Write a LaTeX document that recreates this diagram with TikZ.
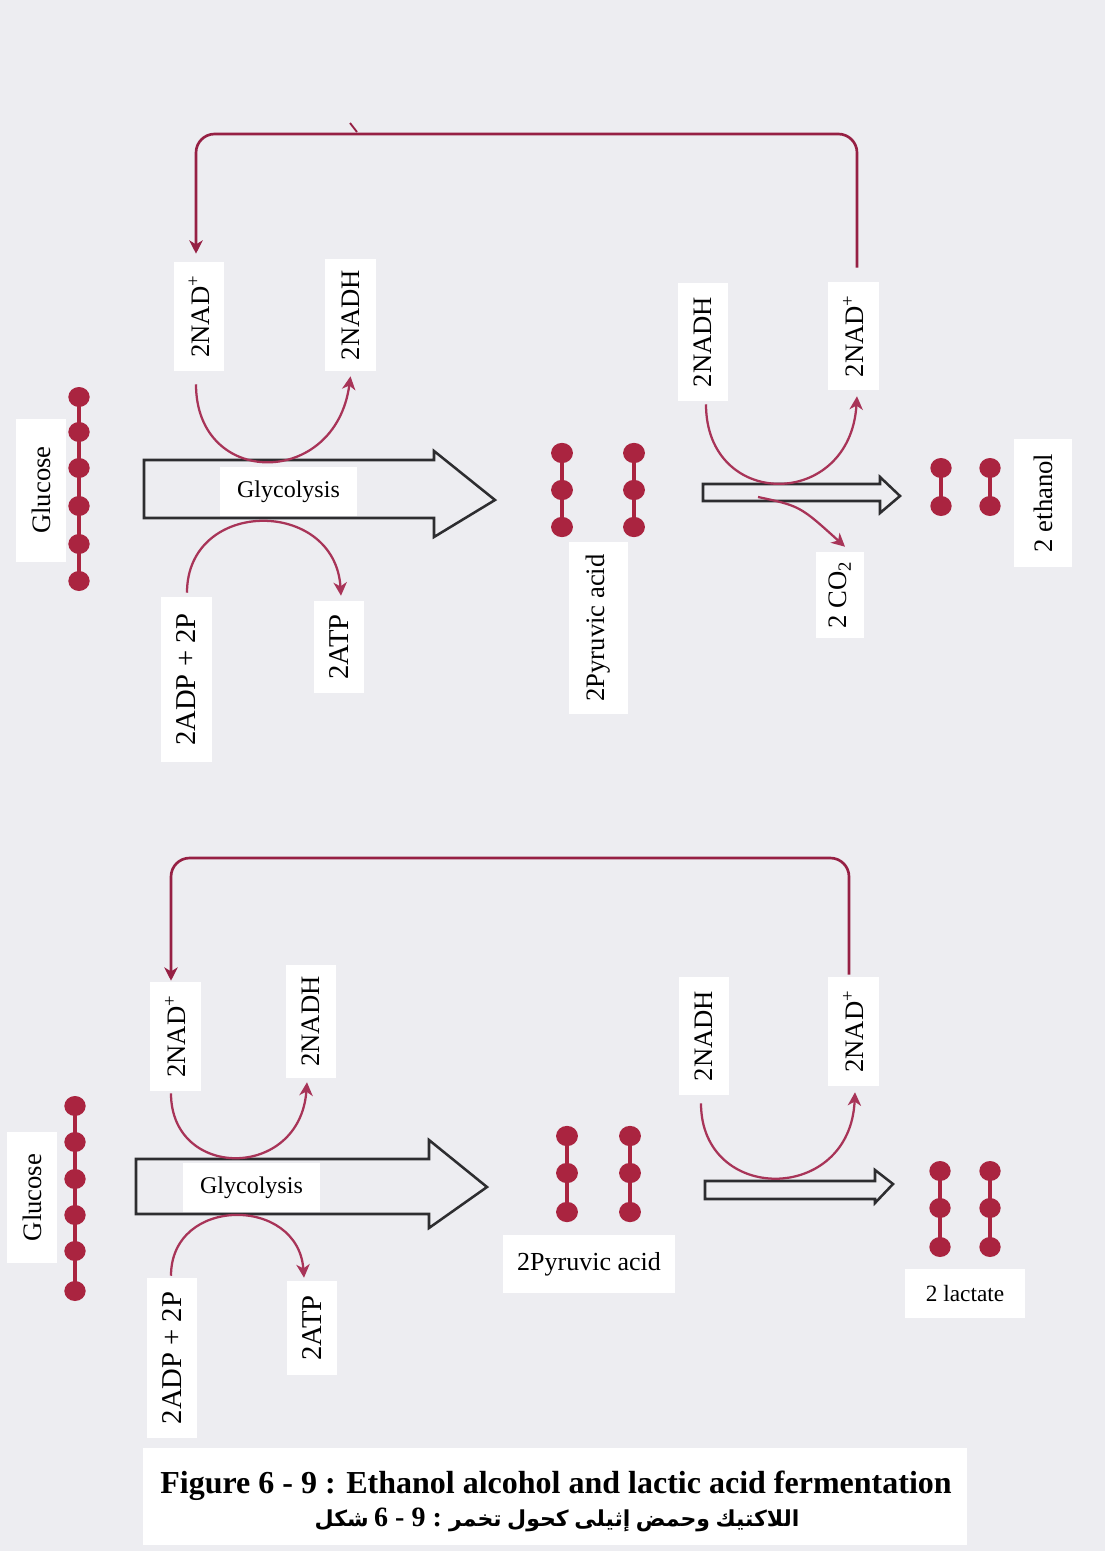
\documentclass[tikz,border=0pt]{standalone}
\usepackage{fontspec}
\setmainfont{Liberation Serif}
\newfontfamily\arabicfont[Script=Arabic]{DejaVu Sans}
\usetikzlibrary{arrows.meta,calc}
\definecolor{bgc}{RGB}{237,237,241}
\definecolor{curvec}{RGB}{168,52,88}
\definecolor{loopc}{RGB}{150,32,68}
\definecolor{molc}{RGB}{170,36,64}
\definecolor{arrc}{RGB}{45,45,48}
\newcommand\arw[1]{{\arabicfont\bfseries #1}}
\newcommand\dgt[1]{{\fontsize{21}{22}\selectfont\bfseries #1}}
\begin{document}
\begin{tikzpicture}[x=0.75pt,y=-0.75pt,
  lab/.style={fill=white, inner sep=0pt, text=black},
  box/.style 2 args={minimum width=#1*0.75pt, minimum height=#2*0.75pt},
  rlab/.style={lab, rotate=90, font=\fontsize{20}{22}\selectfont},
  blab/.style={lab, rotate=90, font=\fontsize{21.5}{23}\selectfont},
  hlab/.style={lab, font=\fontsize{18}{20}\selectfont},
  tip/.style={-{Stealth[length=10pt,width=10pt,inset=3pt]}},
  curvearrow/.style={draw=curvec, line width=1.7pt, tip},
  loopline/.style={draw=loopc, line width=2pt, rounded corners=14pt, tip},
  bigarrow/.style={draw=arrc, line width=1.9pt, line join=miter},
  mol/.style={fill=molc},
  bond/.style={draw=molc, line width=2.4pt}]
\fill[bgc] (0,0) rectangle (1105,1551);
\useasboundingbox (0,0) rectangle (1105,1551);

% ================= TOP PANEL =================
% molecules
\draw[bond] (79,397) -- (79,581);
\foreach \y in {397,432,468,506,544,581} \fill[mol] (79,\y) ellipse [x radius=8pt, y radius=7.5pt];
\foreach \x in {562,634}{
  \draw[bond] (\x,453) -- (\x,527);
  \foreach \y in {453,490,527} \fill[mol] (\x,\y) ellipse [x radius=8.2pt, y radius=7.6pt];}
\foreach \x in {941,990}{
  \draw[bond] (\x,468) -- (\x,506);
  \foreach \y in {468,506} \fill[mol] (\x,\y) ellipse [x radius=8pt, y radius=7.5pt];}

% block arrows
\draw[bigarrow] (144,460) -- (434,460) -- (434,451) -- (495,500) -- (434,537) -- (434,518) -- (144,518) -- cycle;
\draw[bigarrow] (703,484) -- (880,484) -- (880,477) -- (900,496) -- (880,513) -- (880,501) -- (703,501) -- cycle;

% labels
\node[rlab, box={143}{50}] (gluA) at (41,490) {Glucose};
\node[rlab, box={109}{50}] (nadA1) at (199,316.5) {2NAD\textsuperscript{+}};
\node[rlab, box={112}{51}] (nadhA1) at (350.5,315) {2NADH};
\node[blab, box={165}{51}] (adpA) at (186.5,679.5) {2ADP + 2P};
\node[blab, box={92}{50}] (atpA) at (339,647) {2ATP};
\node[rlab, box={118}{50}] (nadhA2) at (703,342) {2NADH};
\node[rlab, box={108}{51}] (nadA2) at (853.5,336) {2NAD\textsuperscript{+}};
\node[rlab, box={172}{59}] (pyrA) at (598.5,628) {2Pyruvic acid};
\node[rlab, box={86}{48}] (co2A) at (840,595) {2 CO\textsubscript{2}};
\node[rlab, box={128}{58}] (ethA) at (1043,503) {2 ethanol};

% connectors
\coordinate (cornA) at (196,134);
\draw[loopline] ([shift={(3.5,-14)}]nadA2.east) |- (cornA) -- ([shift={(-3,-8)}]nadA1.east);
\draw[loopc, line width=1.4pt] (350,123) -- (357,132);
\draw[curvearrow] ([shift={(-3,13)}]nadA1.west) .. controls +(0,104) and +(-15,112) .. ([shift={(0,5)}]nadhA1.west);
\draw[curvearrow] ([shift={(0.5,-4)}]adpA.east) .. controls +(0,-95) and +(-6,-98) .. ([shift={(2,-5)}]atpA.east);
\draw[curvearrow] ([shift={(3,3)}]nadhA2.west) .. controls +(0,106) and +(-7,114) .. ([shift={(3.5,6)}]nadA2.west);
\coordinate (co2s) at (758,497);
\draw[curvearrow] (co2s) .. controls (800,506) .. ([shift={(5,-5)}]co2A.east);

\node[hlab, box={137}{49}] (glyA) at (288.5,491.5) {Glycolysis};

% ================= BOTTOM PANEL =================
\draw[bond] (75,1106) -- (75,1291);
\foreach \y in {1106,1142,1179,1215,1251,1291} \fill[mol] (75,\y) ellipse [x radius=8pt, y radius=7.5pt];
\foreach \x in {567,630}{
  \draw[bond] (\x,1136) -- (\x,1212);
  \foreach \y in {1136,1173,1212} \fill[mol] (\x,\y) ellipse [x radius=8.2pt, y radius=7.6pt];}
\foreach \x in {940,990}{
  \draw[bond] (\x,1171) -- (\x,1247);
  \foreach \y in {1171,1208,1247} \fill[mol] (\x,\y) ellipse [x radius=8pt, y radius=7.5pt];}

\draw[bigarrow] (136,1159) -- (429,1159) -- (429,1140) -- (487,1187) -- (429,1228) -- (429,1214) -- (136,1214) -- cycle;
\draw[bigarrow] (705,1181) -- (875,1181) -- (875,1170) -- (893,1184) -- (875,1203) -- (875,1199) -- (705,1199) -- cycle;

\node[rlab, box={131}{50}] (gluB) at (32,1197.5) {Glucose};
\node[rlab, box={109}{51}] (nadB1) at (175.5,1036.5) {2NAD\textsuperscript{+}};
\node[rlab, box={113}{50}] (nadhB1) at (311,1021.5) {2NADH};
\node[blab, box={160}{50}] (adpB) at (172,1358) {2ADP + 2P};
\node[blab, box={94}{50}] (atpB) at (312,1328) {2ATP};
\node[rlab, box={118}{50}] (nadhB2) at (704,1036) {2NADH};
\node[rlab, box={109}{51}] (nadB2) at (853.5,1031.5) {2NAD\textsuperscript{+}};
\node[lab, box={172}{58}, font=\fontsize{19.5}{21}\selectfont] (pyrB) at (589,1264) {2Pyruvic acid};
\node[lab, box={120}{49}, font=\fontsize{17.5}{20}\selectfont] (lacB) at (965,1293.5) {2 lactate};

\coordinate (cornB) at (171,858);
\draw[loopline] ([shift={(-4.5,-2)}]nadB2.east) |- (cornB) -- ([shift={(-4.5,-1)}]nadB1.east);
\draw[curvearrow] ([shift={(-4.5,2)}]nadB1.west) .. controls +(0,87) and +(-7,98) .. ([shift={(-4,4)}]nadhB1.west);
\draw[curvearrow] ([shift={(-1,-2)}]adpB.east) .. controls +(0,-80) and +(-6,-82) .. ([shift={(-8,-3)}]atpB.east);
\draw[curvearrow] ([shift={(-3,8)}]nadhB2.west) .. controls +(0,101) and +(-5,112) .. ([shift={(1.5,6)}]nadB2.west);

\node[hlab, box={137}{49}] (glyB) at (251.5,1187.5) {Glycolysis};

% ================= CAPTION =================
\node[fill=white, inner sep=0pt, box={824}{97}] (capbox) at (555,1496.5) {};
\node[inner sep=0pt, font=\fontsize{24}{26}\selectfont\bfseries] (cap1) at (556,1486) {Figure 6 - 9 : Ethanol alcohol and lactic acid fermentation};
\node[inner sep=0pt, font=\fontsize{16.5}{20}\selectfont\bfseries] (cap2) at (557,1520) {\arw{شكل} \dgt{6 - 9 :} \arw{تخمر} \arw{كحول} \arw{إثيلى} \arw{وحمض} \arw{اللاكتيك}};
\end{tikzpicture}
\end{document}
